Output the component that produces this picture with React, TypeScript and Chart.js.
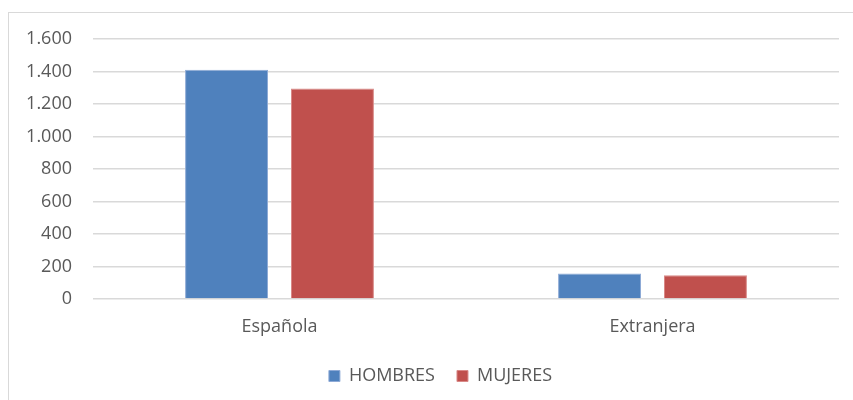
import React, { useEffect, useRef } from "react";
import { Chart, registerables } from "chart.js";

Chart.register(...registerables);

const categories = ["Española", "Extranjera"];
const hombres = [1411, 158];
const mujeres = [1296, 146];
const seriesNames = ["HOMBRES", "MUJERES"];
const yTicks = [0, 200, 400, 600, 800, 1000, 1200, 1400, 1600];

function fmt(v: number): string {
  return String(v).replace(/\B(?=(\d{3})+(?!\d))/g, ".");
}

const shiftLegend = {
  id: "shiftLegend",
  afterLayout(chart: any) {
    const l = chart.legend;
    if (l) {
      l.left += 21;
      l.right += 21;
    }
  },
};

export default function App() {
  const ref = useRef<HTMLCanvasElement | null>(null);
  useEffect(() => {
    if (!ref.current) return;
    const chart = new Chart(ref.current, {
      type: "bar",
      data: {
        labels: categories,
        datasets: [
          {
            label: seriesNames[0],
            data: hombres,
            backgroundColor: "#4F81BD",
            borderColor: "#8EAAD6",
            borderWidth: 1,
          },
          {
            label: seriesNames[1],
            data: mujeres,
            backgroundColor: "#C0504D",
            borderColor: "#D98A88",
            borderWidth: 1,
          },
        ],
      },
      plugins: [shiftLegend],
      options: {
        responsive: false,
        animation: false,
        devicePixelRatio: 1,
        datasets: {
          bar: { categoryPercentage: 0.568, barPercentage: 0.783 },
        },
        layout: { padding: { left: 0, right: 14, top: 39, bottom: 5 } },
        font: { family: "'Open Sans'", size: 18 },
        scales: {
          x: {
            grid: { display: false, drawTicks: false },
            border: { display: false },
            afterFit: (s: any) => {
              s.height = s.height - 9.7;
            },
            ticks: {
              color: "#595959",
              font: { family: "'Open Sans'", size: 18 },
              padding: 17,
            },
          },
          y: {
            min: 0,
            max: 1600,
            afterBuildTicks: (s: any) => {
              s.ticks = yTicks.map((v) => ({ value: v }));
            },
            afterFit: (s: any) => {
              s.width = 93;
            },
            grid: { color: "#d9d9d9", lineWidth: 1.5, drawTicks: false },
            border: { display: false },
            ticks: {
              color: "#595959",
              font: { family: "'Open Sans'", size: 18 },
              padding: 21,
              callback: (v: any) => fmt(Number(v)),
            },
          },
        },
        plugins: {
          tooltip: { enabled: false },
          legend: {
            position: "bottom",
            labels: {
              color: "#595959",
              font: { family: "'Open Sans'", size: 18 },
              boxWidth: 11,
              boxHeight: 11,
              padding: 22,
            },
          },
        },
      },
    });
    return () => chart.destroy();
  }, []);
  return (
    <div style={{ position: "fixed", left: 0, top: 0, width: 853, height: 400, background: "#fff" }}>
      <div
        style={{
          position: "absolute",
          left: 8,
          top: 12,
          width: 850,
          height: 400,
          border: "1px solid #d9d9d9",
          boxSizing: "border-box",
        }}
      />
      <canvas
        ref={ref}
        width={853}
        height={400}
        style={{ position: "absolute", left: 0, top: 0, width: 853, height: 400 }}
      />
    </div>
  );
}
